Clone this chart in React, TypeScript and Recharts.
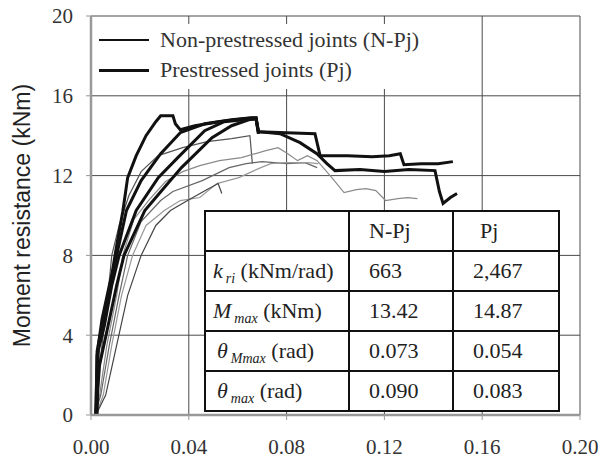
import { LineChart, Line, XAxis, YAxis, CartesianGrid } from 'recharts';

type Pt = [number, number];

// Prestressed joints (Pj) – thick black curves
const pj1: Pt[] = [
  [0.002, 0], [0.0025, 3.2], [0.0045, 4.5], [0.0065, 5.5], [0.0085, 7], [0.0105, 8.5], [0.013, 10.2],
  [0.015, 11.9], [0.0185, 13.0], [0.0225, 14.0], [0.0265, 14.7], [0.0285, 15.0], [0.0335, 15.0],
  [0.0345, 14.6], [0.0365, 14.3], [0.0425, 14.5], [0.0525, 14.7], [0.0625, 14.85], [0.0675, 14.9],
  [0.0685, 14.2], [0.08, 14.15], [0.0916, 14.1], [0.0937, 13.0], [0.105, 13.0], [0.115, 12.95],
  [0.122, 13.0], [0.1265, 13.1], [0.128, 12.55], [0.135, 12.6], [0.142, 12.6], [0.148, 12.7],
];
const pj2: Pt[] = [
  [0.0025, 0], [0.003, 3.5], [0.0045, 4.8], [0.0075, 6.5], [0.0105, 8], [0.0145, 10.25], [0.0205, 11.75],
  [0.0285, 13.1], [0.0365, 14.15], [0.0465, 14.6], [0.0575, 14.8], [0.0655, 14.9], [0.0675, 14.9],
  [0.0685, 14.2], [0.0773, 14.1], [0.0855, 13.65], [0.0924, 13.1], [0.0965, 12.6], [0.0998, 12.25],
  [0.11, 12.3], [0.12, 12.2], [0.13, 12.3], [0.1407, 12.25], [0.1425, 11.2], [0.144, 10.6],
  [0.147, 10.9], [0.1497, 11.1],
];
const pj3: Pt[] = [
  [0.002, 0], [0.0025, 3], [0.0055, 4.5], [0.0085, 6.5], [0.0115, 8], [0.0185, 10.25], [0.0275, 11.9],
  [0.0355, 12.9], [0.0465, 14.25], [0.0545, 14.7], [0.0625, 14.8], [0.0675, 14.85], [0.0685, 14.1],
];
const pj4: Pt[] = [
  [0.002, 0], [0.0035, 2.5], [0.0065, 4.2], [0.0105, 6.5], [0.0135, 8], [0.022, 10.25], [0.03, 11.4],
  [0.037, 12.4], [0.0495, 13.9], [0.0575, 14.5], [0.0645, 14.8], [0.0675, 14.85], [0.0685, 14.1],
];

// Non-prestressed joints (N-Pj) – thin grey curves
const npj1: Pt[] = [
  [0.0015, 0], [0.0025, 1.5], [0.0045, 3.5], [0.0065, 5.5], [0.0085, 8], [0.0115, 9.5], [0.0155, 11],
  [0.0205, 12.2], [0.0275, 13.0], [0.0375, 13.4], [0.0475, 13.7], [0.0575, 13.85], [0.065, 14.0],
  [0.066, 12.6],
];
const npj2: Pt[] = [
  [0.0015, 0], [0.0035, 1], [0.0065, 3.5], [0.0105, 6], [0.013, 8], [0.0175, 9.8], [0.0235, 10.75],
  [0.0305, 11.7], [0.0375, 12.2], [0.0445, 12.5], [0.0525, 12.75], [0.0615, 12.9], [0.0715, 13.25],
  [0.0765, 13.4], [0.0805, 13.1], [0.0845, 12.75], [0.0885, 13.0], [0.0925, 12.75], [0.0985, 11.9],
  [0.1035, 11.15], [0.1085, 11.3], [0.1125, 11.35], [0.1165, 11.25], [0.1205, 10.75], [0.1255, 10.85],
  [0.1295, 10.9], [0.1335, 10.85],
];
const npj3: Pt[] = [
  [0.0015, 0], [0.004, 1], [0.0075, 3.5], [0.0115, 6], [0.015, 8], [0.0205, 9.7], [0.0285, 10.75],
  [0.0335, 11.2], [0.0455, 11.75], [0.0565, 12.4], [0.0635, 12.6], [0.07, 12.7], [0.08, 12.6],
  [0.0875, 12.65], [0.0925, 12.4],
];
const npj4: Pt[] = [
  [0.002, 0], [0.005, 1], [0.0085, 3.5], [0.0125, 6], [0.017, 8], [0.0225, 9.5], [0.03, 10.25],
  [0.0365, 10.75], [0.0445, 10.9], [0.0515, 11.6], [0.0605, 11.9], [0.0685, 12.35], [0.0735, 12.6],
  [0.0795, 12.65], [0.0885, 12.65], [0.093, 12.6],
];
const npj5: Pt[] = [
  [0.002, 0], [0.006, 1], [0.0105, 3.5], [0.015, 6], [0.0205, 8], [0.0265, 9.5], [0.0325, 10.25],
  [0.0395, 10.75], [0.0475, 11.3], [0.052, 11.6], [0.0535, 11.1],
];

const thickCurves = [pj1, pj2, pj3, pj4];
const thinCurves = [npj1, npj2, npj3, npj4, npj5];
const thinColors = ['#555', '#8a8a8a', '#666', '#999', '#444'];

const xTicks = [0, 0.04, 0.08, 0.12, 0.16, 0.2];
const yTicks = [0, 4, 8, 12, 16, 20];

const legendItems = ['Non-prestressed joints (N-Pj)', 'Prestressed joints (Pj)'];
const tableHead = ['N-Pj', 'Pj'];
const tableRows = [
  { sym: 'k', sub: 'ri', unit: '(kNm/rad)', npj: '663', pj: '2,467', greek: false },
  { sym: 'M', sub: 'max', unit: '(kNm)', npj: '13.42', pj: '14.87', greek: false },
  { sym: 'θ', sub: 'Mmax', unit: '(rad)', npj: '0.073', pj: '0.054', greek: true },
  { sym: 'θ', sub: 'max', unit: '(rad)', npj: '0.090', pj: '0.083', greek: true },
];

const toData = (pts: Pt[]) => pts.map(([x, y]) => ({ x, y }));

const serif = '"Liberation Serif", "Times New Roman", serif';
const tickStyle = { fontFamily: serif, fontSize: 21, fill: '#333' };

const cell: React.CSSProperties = {
  border: '2.5px solid #111',
  padding: 0,
  height: 38,
  fontFamily: serif,
  fontSize: 22,
  color: '#222',
  verticalAlign: 'middle',
  lineHeight: '22px',
};

export default function App() {
  return (
    <div style={{ position: 'absolute', left: 0, top: 0, width: 603, height: 463, background: '#fff' }}>
      <LineChart width={603} height={463} margin={{ top: 16, right: 23, left: 0, bottom: 0 }}>
        <CartesianGrid stroke="#4a4a4a" strokeWidth={1} />
        <XAxis
          dataKey="x"
          type="number"
          domain={[0, 0.2]}
          ticks={xTicks}
          tickFormatter={(v: number) => v.toFixed(2)}
          height={48}
          tickSize={5}
          tickMargin={19}
          tick={tickStyle}
          axisLine={{ stroke: '#999', strokeWidth: 2.5 }}
          tickLine={{ stroke: '#999' }}
          allowDataOverflow
        />
        <XAxis
          xAxisId="top"
          orientation="top"
          type="number"
          domain={[0, 0.2]}
          ticks={xTicks}
          height={0}
          tick={false}
          tickLine={false}
          axisLine={{ stroke: '#999', strokeWidth: 2.5 }}
        />
        <YAxis
          type="number"
          domain={[0, 20]}
          ticks={yTicks}
          width={91}
          tickSize={5}
          tickMargin={13}
          tick={tickStyle}
          axisLine={{ stroke: '#999', strokeWidth: 2.5 }}
          tickLine={{ stroke: '#999' }}
          label={{
            content: ({ viewBox }: any) => {
              const cy = (viewBox?.y ?? 16) + (viewBox?.height ?? 399) / 2;
              return (
                <text
                  x={30}
                  y={cy}
                  transform={`rotate(-90, 30, ${cy})`}
                  textAnchor="middle"
                  style={{ fontFamily: '"Liberation Sans", Arial, sans-serif', fontSize: 23, fill: '#222' }}
                >
                  Moment resistance (kNm)
                </text>
              );
            },
          }}
        />
        <YAxis
          yAxisId="right"
          orientation="right"
          type="number"
          domain={[0, 20]}
          ticks={yTicks}
          width={0}
          tick={false}
          tickLine={false}
          axisLine={{ stroke: '#999', strokeWidth: 2.5 }}
        />
        {thinCurves.map((c, i) => (
          <Line
            key={`n${i}`}
            data={toData(c)}
            dataKey="y"
            type="linear"
            stroke={thinColors[i]}
            strokeWidth={1.2}
            dot={false}
            isAnimationActive={false}
          />
        ))}
        {thickCurves.map((c, i) => (
          <Line
            key={`p${i}`}
            data={toData(c)}
            dataKey="y"
            type="linear"
            stroke="#111"
            strokeWidth={3}
            dot={false}
            isAnimationActive={false}
          />
        ))}
      </LineChart>

      {/* legend box */}
      <div style={{ position: 'absolute', left: 93, top: 24, width: 357, height: 65, background: '#fff' }}>
        {legendItems.map((t, i) => (
          <div key={t} style={{ position: 'absolute', left: 6, top: 2 + i * 30, height: 28, display: 'flex', alignItems: 'center' }}>
            <div style={{ width: 50, borderTop: `${i === 0 ? 2.5 : 3}px solid #111` }} />
            <span style={{ marginLeft: 11, fontFamily: serif, fontSize: 22, color: '#333', whiteSpace: 'nowrap' }}>{t}</span>
          </div>
        ))}
      </div>

      {/* summary table */}
      <table
        style={{
          position: 'absolute',
          left: 204,
          top: 210,
          width: 354,
          borderCollapse: 'collapse',
          background: '#fff',
          tableLayout: 'fixed',
        }}
      >
        <colgroup>
          <col style={{ width: 144 }} />
          <col style={{ width: 104 }} />
          <col style={{ width: 106 }} />
        </colgroup>
        <tbody>
          <tr>
            <td style={cell} />
            <td style={{ ...cell, paddingLeft: 19 }}>{tableHead[0]}</td>
            <td style={{ ...cell, paddingLeft: 26 }}>{tableHead[1]}</td>
          </tr>
          {tableRows.map((r) => (
            <tr key={r.sub + r.unit}>
              <td style={{ ...cell, paddingLeft: r.greek ? 11 : 7, whiteSpace: 'nowrap' }}>
                <i>{r.sym}</i>
                <sub style={{ fontSize: 14, fontStyle: 'italic', marginLeft: 3, lineHeight: 0 }}>{r.sub}</sub>{' '}
                {r.unit}
              </td>
              <td style={{ ...cell, paddingLeft: 19 }}>{r.npj}</td>
              <td style={{ ...cell, paddingLeft: 19 }}>{r.pj}</td>
            </tr>
          ))}
        </tbody>
      </table>
    </div>
  );
}
